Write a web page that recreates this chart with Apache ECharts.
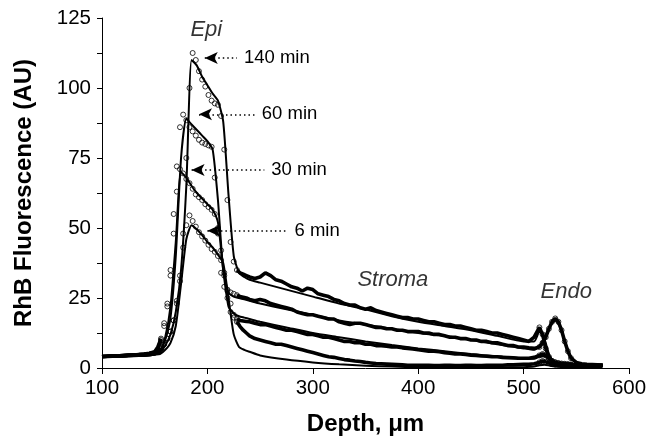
<!DOCTYPE html>
<html>
<head>
<meta charset="utf-8">
<script src="https://cdn.jsdelivr.net/npm/echarts@6/dist/echarts.min.js"></script>
<style>
  html, body { margin: 0; padding: 0; background: #fff; }
  #chart { width: 660px; height: 436px; }
</style>
</head>
<body>
<div id="chart"></div>
<script>
// measured profiles (open circles / dense band), depth in um
var depthData = [100,105,110,115,120,125,130,135,140,145,150,
    153,156,159,162,165,168,171,174,177,180,183,186,189,192,195,198,201,204,207,210,213,216,219,222,225,228,231,234,237,240,
    245,250,255,260,265,270,275,280,285,290,295,300,305,310,315,320,325,330,335,340,345,350,355,360,365,370,375,380,385,390,
    395,400,405,410,415,420,425,430,435,440,445,450,455,460,465,470,475,480,485,490,495,500,
    505,510,515,518,521,524,527,530,533,536,539,542,545,550,555,560,565,570,575];

var data140 = [4.2,4.3,4.4,4.3,4.5,4.6,4.6,4.8,4.9,5.2,5.6,
    6,7,8.5,10.5,13,17,23,31,48,75,100,112.5,110,106,103,100.5,97.5,95.5,94.5,94,90,78,60,45,38,35,34,33.5,33,32.5,
    32.0,32.5,34.0,33.0,31.5,31.0,30.0,29.0,28.5,27.5,28.5,28.0,26.5,26.0,25.5,24.5,24.0,23.0,22.5,22.5,21.5,21.0,21.5,20.5,20.0,19.5,19.0,18.5,18.0,18.0,
    17.5,17.5,17.0,16.5,16.5,16.0,15.5,15.5,15.0,15.0,14.5,14.0,13.5,13.5,13.0,12.5,12.5,12.0,11.5,11.0,10.5,10.0,
    9.5,11,14.5,12,7,4,2.5,2,1.8,1.6,1.5,1.4,1.3,1.2,1.1,1.1,1.0,1.0,1.0];

var data60 = [4.0,4.2,4.3,4.2,4.4,4.5,4.6,4.7,4.9,5.1,5.5,
    7,10,16,23,35,55,72,86,90.5,88.5,86,84.5,83,81.5,80.5,80,79.5,79,68,48,34,29,27.5,27,26.5,26,25.5,25.3,25,24.5,
    24.0,24.5,24.0,23.0,22.5,22.0,21.5,21.0,20.0,19.5,19.0,19.0,18.5,18.0,17.5,17.5,16.5,16.0,15.5,16.0,16.0,15.5,15.0,14.5,14.5,14.0,14.0,13.5,13.5,13.0,
    13.0,13.0,12.5,12.5,12.0,12.0,11.5,11.0,11.0,10.5,10.5,10.0,10.0,9.5,9.5,9.0,9.0,8.5,8.0,8.0,7.5,7.5,
    7.2,7.0,7.5,9,11,14,16.5,17.7,16.5,13.5,9.5,6,3.5,2,1.5,1.3,1.2,1.1,1.0];

var data30 = [4.1,4.2,4.4,4.3,4.4,4.6,4.7,4.8,5.0,5.3,5.8,
    7.5,10.5,15,22,33,48,63,71,69.5,67.5,66,64,62,61,60,58.5,57.5,56.5,55,50,42,33,25,20,18,17.5,17,16.8,16.6,16.5,
    16.0,15.5,15.5,15.0,14.5,14.0,13.5,13.5,13.0,12.5,12.0,12.0,11.5,11.0,11.0,10.5,10.0,9.5,9.5,9.0,9.0,8.5,8.5,8.0,8.0,7.8,7.5,7.5,7.2,7.0,
    6.8,6.5,6.3,6.0,6.0,5.8,5.5,5.3,5.0,5.0,4.8,4.6,4.5,4.3,4.2,4.0,4.0,3.8,3.7,3.6,3.5,3.5,
    3.5,3.8,4.5,5.0,4.5,3.5,2.5,2.0,1.6,1.4,1.3,1.2,1.1,1.0,1.0,1.0,1.0,1.0,1.0];

var data6 = [4.0,4.1,4.2,4.2,4.3,4.4,4.5,4.6,4.7,5.0,5.3,
    6,7,8.5,10.5,13,17,24,33,43,51,54.5,52.5,50.5,48.5,47,45.5,44,42.5,41.5,40,38.5,34,28,23,19,16.5,14.8,13.5,12.5,11.5,
    10.5,10.0,9.5,9.0,8.5,8.5,8.0,7.5,7.0,6.5,6.0,5.5,5.0,4.5,4.0,3.8,3.4,3.0,2.8,2.5,2.3,2.0,1.8,1.6,1.5,1.4,1.3,1.2,1.1,1.0,
    1.0,1.0,1.0,1.0,0.9,0.9,1.0,1.0,0.9,0.9,1.0,1.0,0.9,0.9,1.0,1.0,1.0,1.0,1.1,1.1,1.2,1.3,
    1.3,1.5,2.0,2.5,2.2,1.8,1.4,1.2,1.1,1.0,1.0,1.0,1.0,1.0,1.0,1.0,1.0,1.0,1.0];

// model fits (solid lines)
var depthFit = [100,120,140,150,155,160,165,170,175,180,185,190,195,200,205,210,215,220,225,230,
    235,240,250,275,300,325,350,375,400,425,450,475,500,510,515,520,525,530,535,540,545,550,560,575];
var fit140 = [4.0,4.2,4.4,4.8,5.5,8,12,20,35,65,110,108,104,101,98,95.5,88,62,40,34,
    32.5,31.5,30.5,28,25.5,23,21,18.5,16.5,15,13.5,11.5,9.5,9.5,13,10,4,2,1.5,1.3,1.2,1.1,1.0,1.0];
var fit60 = [4.0,4.2,4.4,4.8,6,10,18,40,75,89,87,85,83,81,78,60,35,27,25.5,25,
    24.5,24,23,21,19,17,15.5,14,12.5,11.5,10,8.5,7,6.5,8,11,15,17,14.5,8.5,4,2,1.2,1.0];
var fit30 = [4.0,4.2,4.4,4.8,6,11,22,45,70,68,65,62.5,60.5,58.5,56.5,52,35,22,19.5,18.5,
    18,17.5,16.5,14.5,12.5,11,9.5,8.2,7,6,5,4.2,3.5,3.3,4,4.2,3,2,1.5,1.2,1.1,1.0,1.0,1.0];
var fit6 = [4.0,4.2,4.4,4.8,5,6.5,9,15,30,46,51,49.5,47.5,45,43,40.5,37.5,25,12,7.5,
    6.5,5.8,4.5,3,2,1.3,0.8,0.5,0.3,0.2,0.2,0.2,0.3,0.5,1,1.2,0.8,0.5,0.4,0.3,0.3,0.3,0.3,0.3];

// arrow notes: label, y, arrow tip depth, end of dotted line
var noteLabels = ['140 min', '60 min', '30 min', '6 min'];
var noteY = [110.7, 90.6, 70.7, 49];
var noteTip = [197.5, 192, 185, 200];
var noteEnd = [228, 245, 254, 276];

var regionLabels = ['Epi', 'Stroma', 'Endo'];
var regionPos = [[199, 120.7], [376, 31.4], [540.5, 27.3]];

var FONT = 'Liberation Sans, Arial, sans-serif';
var chart = echarts.init(document.getElementById('chart'));

function bandData(vals) {
    // dense band outside the steep epithelial part
    return depthData.map(function (d, i) {
        return (d > 156 && d < 228) ? [d, null] : [d, vals[i]];
    });
}
function circleData(vals) {
    var out = [];
    depthData.forEach(function (d, i) {
        if ((d >= 156 && d <= 228) || (d >= 512 && d <= 545)) out.push([d, vals[i]]);
    });
    return out;
}
function fitData(vals) {
    return depthFit.map(function (d, i) { return [d, vals[i]]; });
}

var series = [];
[data140, data60, data30, data6].forEach(function (vals) {
    series.push({
        type: 'line', data: bandData(vals), showSymbol: false, connectNulls: false,
        lineStyle: { color: '#000', width: 3.6 }, z: 2, silent: true
    });
    series.push({
        type: 'scatter', data: circleData(vals), symbol: 'circle', symbolSize: 5,
        itemStyle: { color: 'rgba(255,255,255,0)', borderColor: '#000', borderWidth: 1 }, z: 3, silent: true
    });
});
[fit140, fit60, fit30, fit6].forEach(function (vals) {
    series.push({
        type: 'line', data: fitData(vals), showSymbol: false, smooth: 0.2,
        lineStyle: { color: '#000', width: 2 }, z: 4, silent: true
    });
});

series.push({
    type: 'line', data: [], silent: true,
    markLine: {
        silent: true, animation: false,
        symbol: ['arrow', 'none'], symbolSize: [9, 13],
        lineStyle: { color: '#000', width: 1.5, type: [1.5, 3] },
        label: {
            show: true, position: 'end', distance: 7, color: '#000',
            fontFamily: FONT, fontSize: 18.5,
            formatter: function (p) { return p.name; }
        },
        data: noteLabels.map(function (t, i) {
            return [{ name: t, coord: [noteTip[i], noteY[i]] }, { coord: [noteEnd[i], noteY[i]] }];
        })
    }
});

series.push({
    type: 'scatter', symbolSize: 0, silent: true, z: 5,
    data: regionLabels.map(function (t, i) { return { name: t, value: regionPos[i] }; }),
    label: {
        show: true, position: 'inside', color: '#000', fontFamily: FONT,
        fontSize: 22, fontStyle: 'italic',
        formatter: function (p) { return p.name; }
    }
});

chart.setOption({
    animation: false,
    grid: { left: 102, right: 31, top: 18, bottom: 68, containLabel: false, outerBoundsMode: 'none' },
    xAxis: {
        type: 'value', min: 100, max: 600, interval: 100,
        name: 'Depth, \u03bcm', nameLocation: 'middle', nameGap: 44,
        nameTextStyle: { color: '#000', fontFamily: FONT, fontSize: 24, fontWeight: 'bold' },
        axisLine: { lineStyle: { color: '#000', width: 1 } },
        axisTick: { show: true, length: 6, lineStyle: { color: '#000' } },
        axisLabel: { color: '#000', fontFamily: FONT, fontSize: 20.5, margin: 10 },
        splitLine: { show: false }
    },
    yAxis: {
        type: 'value', min: 0, max: 125, interval: 25,
        name: 'RhB Fluorescence (AU)', nameLocation: 'middle', nameGap: 66,
        nameTextStyle: { color: '#000', fontFamily: FONT, fontSize: 24, fontWeight: 'bold' },
        axisLine: { show: true, lineStyle: { color: '#000', width: 1 } },
        axisTick: { show: true, length: 5, lineStyle: { color: '#000' } },
        minorTick: { show: true, splitNumber: 2, length: 5, lineStyle: { color: '#000' } },
        axisLabel: { color: '#000', fontFamily: FONT, fontSize: 20.5, margin: 11 },
        splitLine: { show: false }
    },
    series: series
});
</script>
</body>
</html>
